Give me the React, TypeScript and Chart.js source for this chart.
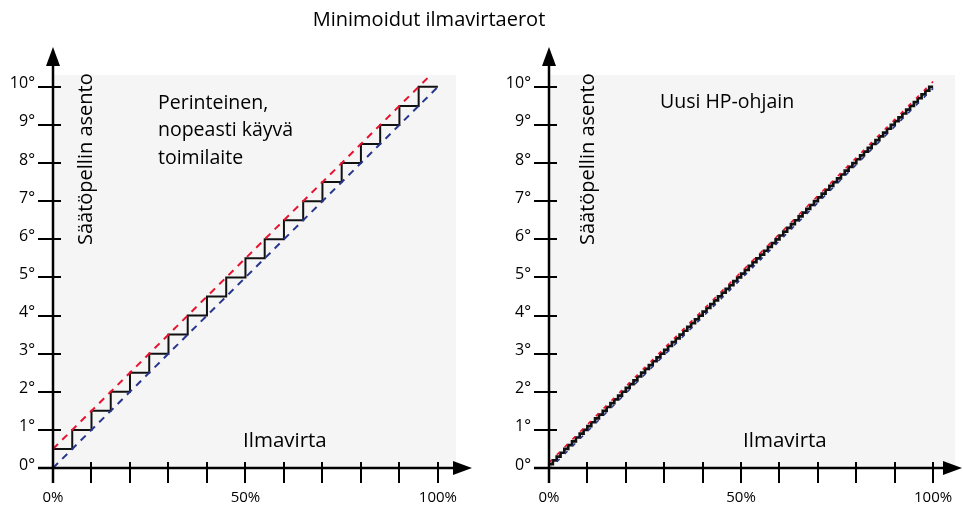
import React, { useEffect, useRef } from "react";
import { Chart, registerables } from "chart.js";

Chart.register(...registerables);

const FONT = '"Open Sans", "DejaVu Sans", sans-serif';

const titleText = "Minimoidut ilmavirtaerot";
const yAxisTitle = "Säätöpellin asento";
const xAxisTitle = "Ilmavirta";
const leftLabelLines = ["Perinteinen,", "nopeasti käyvä", "toimilaite"];
const rightLabelLines = ["Uusi HP-ohjain"];

const yTickValues = [0, 1, 2, 3, 4, 5, 6, 7, 8, 9, 10];
const yTickLabels = ["0°", "1°", "2°", "3°", "4°", "5°", "6°", "7°", "8°", "9°", "10°"];
const xTickValues = [0, 10, 20, 30, 40, 50, 60, 70, 80, 90, 100];
const xLabelValues = [0, 50, 100];
const xLabelTexts = ["0%", "50%", "100%"];

// Left panel: traditional actuator, 0.5° steps every 5 %
const leftStepX = [0, 5, 10, 15, 20, 25, 30, 35, 40, 45, 50, 55, 60, 65, 70, 75, 80, 85, 90, 95, 100];
const leftStepY = [0.5, 1, 1.5, 2, 2.5, 3, 3.5, 4, 4.5, 5, 5.5, 6, 6.5, 7, 7.5, 8, 8.5, 9, 9.5, 10, 10];
const leftRedX = [0, 98];
const leftRedY = [0.5, 10.3];
const leftBlueX = [0, 100];
const leftBlueY = [0, 10];

// Right panel: new HP controller, 0.1° steps every 1 %
const rightStepX = [
  0, 1, 2, 3, 4, 5, 6, 7, 8, 9, 10, 11, 12, 13, 14, 15, 16, 17, 18, 19,
  20, 21, 22, 23, 24, 25, 26, 27, 28, 29, 30, 31, 32, 33, 34, 35, 36, 37, 38, 39,
  40, 41, 42, 43, 44, 45, 46, 47, 48, 49, 50, 51, 52, 53, 54, 55, 56, 57, 58, 59,
  60, 61, 62, 63, 64, 65, 66, 67, 68, 69, 70, 71, 72, 73, 74, 75, 76, 77, 78, 79,
  80, 81, 82, 83, 84, 85, 86, 87, 88, 89, 90, 91, 92, 93, 94, 95, 96, 97, 98, 99, 100,
];
const rightStepY = [
  0.1, 0.2, 0.3, 0.4, 0.5, 0.6, 0.7, 0.8, 0.9, 1.0, 1.1, 1.2, 1.3, 1.4, 1.5, 1.6, 1.7, 1.8, 1.9, 2.0,
  2.1, 2.2, 2.3, 2.4, 2.5, 2.6, 2.7, 2.8, 2.9, 3.0, 3.1, 3.2, 3.3, 3.4, 3.5, 3.6, 3.7, 3.8, 3.9, 4.0,
  4.1, 4.2, 4.3, 4.4, 4.5, 4.6, 4.7, 4.8, 4.9, 5.0, 5.1, 5.2, 5.3, 5.4, 5.5, 5.6, 5.7, 5.8, 5.9, 6.0,
  6.1, 6.2, 6.3, 6.4, 6.5, 6.6, 6.7, 6.8, 6.9, 7.0, 7.1, 7.2, 7.3, 7.4, 7.5, 7.6, 7.7, 7.8, 7.9, 8.0,
  8.1, 8.2, 8.3, 8.4, 8.5, 8.6, 8.7, 8.8, 8.9, 9.0, 9.1, 9.2, 9.3, 9.4, 9.5, 9.6, 9.7, 9.8, 9.9, 10.0, 10.0,
];
const rightRedX = [0, 100];
const rightRedY = [0.14, 10.14];
const rightBlueX = [0, 100];
const rightBlueY = [-0.04, 9.96];

const RED = "#e8122f";
const BLUE = "#26358c";
const GREY = "#f5f5f5";

type PanelCfg = {
  padding: { left: number; right: number; top: number; bottom: number };
  xMax: number;
  yMax: number;
  stepX: number[];
  stepY: number[];
  stepWidth: number;
  redX: number[];
  redY: number[];
  blueX: number[];
  blueY: number[];
  dash: number[];
  dashWidth: number;
  labelLines: string[];
  labelPos: { x: number; y: number };
  vTitleX: number;
  xTitlePos: { x: number; y: number };
  arrowTipX: number;
  drawTitle: boolean;
};

const zip = (xs: number[], ys: number[]) => xs.map((x, i) => ({ x, y: ys[i] }));

const panels: PanelCfg[] = [
  {
    padding: { left: 53, right: 963 - 456, top: 75, bottom: 510 - 468 },
    xMax: 104.7,
    yMax: 10.31,
    stepX: leftStepX,
    stepY: leftStepY,
    stepWidth: 2,
    redX: leftRedX,
    redY: leftRedY,
    blueX: leftBlueX,
    blueY: leftBlueY,
    dash: [7, 6],
    dashWidth: 2,
    labelLines: leftLabelLines,
    labelPos: { x: 158, y: 103 },
    vTitleX: 86,
    xTitlePos: { x: 243, y: 441 },
    arrowTipX: 472,
    drawTitle: true,
  },
  {
    padding: { left: 549, right: 963 - 955, top: 75, bottom: 510 - 468 },
    xMax: 105.7,
    yMax: 10.31,
    stepX: rightStepX,
    stepY: rightStepY,
    stepWidth: 2.7,
    redX: rightRedX,
    redY: rightRedY,
    blueX: rightBlueX,
    blueY: rightBlueY,
    dash: [4, 7],
    dashWidth: 1.6,
    labelLines: rightLabelLines,
    labelPos: { x: 660, y: 102 },
    vTitleX: 588,
    xTitlePos: { x: 743, y: 441 },
    arrowTipX: 962,
    drawTitle: false,
  },
];

function makeDecorPlugin(cfg: PanelCfg) {
  return {
    id: "decor",
    beforeDatasetsDraw(chart: any) {
      const { ctx, chartArea } = chart;
      ctx.save();
      ctx.fillStyle = GREY;
      ctx.fillRect(chartArea.left, chartArea.top, chartArea.right - chartArea.left, chartArea.bottom - chartArea.top);
      ctx.restore();
    },
    afterDatasetsDraw(chart: any) {
      const { ctx } = chart;
      const xs = chart.scales.x;
      const ys = chart.scales.y;
      const ax = xs.getPixelForValue(0);
      const ay = ys.getPixelForValue(0);
      ctx.save();
      ctx.strokeStyle = "#000";
      ctx.fillStyle = "#000";
      ctx.lineCap = "butt";

      // axes
      ctx.lineWidth = 2.5;
      ctx.beginPath();
      ctx.moveTo(ax, ay + 15);
      ctx.lineTo(ax, 60);
      ctx.moveTo(ax - 15, ay);
      ctx.lineTo(cfg.arrowTipX - 10, ay);
      ctx.stroke();

      // arrows
      ctx.beginPath();
      ctx.moveTo(ax, 47);
      ctx.lineTo(ax - 7, 66);
      ctx.lineTo(ax + 7, 66);
      ctx.closePath();
      ctx.fill();
      ctx.beginPath();
      ctx.moveTo(cfg.arrowTipX, ay);
      ctx.lineTo(cfg.arrowTipX - 19, ay - 7);
      ctx.lineTo(cfg.arrowTipX - 19, ay + 7);
      ctx.closePath();
      ctx.fill();

      // ticks
      ctx.lineWidth = 2;
      ctx.beginPath();
      yTickValues.forEach((v) => {
        if (v === 0) return;
        const py = Math.round(ys.getPixelForValue(v));
        ctx.moveTo(ax - 15, py);
        ctx.lineTo(ax + 8, py);
      });
      xTickValues.forEach((v) => {
        if (v === 0) return;
        const px = Math.round(xs.getPixelForValue(v));
        ctx.moveTo(px, ay - 6);
        ctx.lineTo(px, ay + 15);
      });
      ctx.stroke();

      // tick labels
      ctx.font = `16px ${FONT}`;
      ctx.textAlign = "right";
      ctx.textBaseline = "middle";
      yTickValues.forEach((v, i) => {
        ctx.fillText(yTickLabels[i], ax - 18, ys.getPixelForValue(v) - 3);
      });
      ctx.font = `15px ${FONT}`;
      ctx.textAlign = "center";
      xLabelValues.forEach((v, i) => {
        ctx.fillText(xLabelTexts[i], xs.getPixelForValue(v), 498);
      });

      // texts
      ctx.font = `19.5px ${FONT}`;
      ctx.textAlign = "left";
      ctx.textBaseline = "middle";
      cfg.labelLines.forEach((line, i) => {
        ctx.fillText(line, cfg.labelPos.x, cfg.labelPos.y + i * 27.5);
      });
      ctx.font = `20.5px ${FONT}`;
      ctx.fillText(xAxisTitle, cfg.xTitlePos.x, cfg.xTitlePos.y);

      ctx.save();
      ctx.font = `20px ${FONT}`;
      ctx.translate(cfg.vTitleX, 245);
      ctx.rotate(-Math.PI / 2);
      ctx.fillText(yAxisTitle, 0, 0);
      ctx.restore();

      if (cfg.drawTitle) {
        ctx.font = `20px ${FONT}`;
        ctx.textAlign = "center";
        ctx.fillText(titleText, 429, 20);
      }
      ctx.restore();
    },
  };
}

function Panel({ cfg }: { cfg: PanelCfg }) {
  const ref = useRef<HTMLCanvasElement | null>(null);
  useEffect(() => {
    if (!ref.current) return;
    const chart = new Chart(ref.current, {
      type: "line",
      data: {
        datasets: [
          {
            label: "blue",
            data: zip(cfg.blueX, cfg.blueY),
            borderColor: BLUE,
            borderWidth: cfg.dashWidth,
            borderDash: cfg.dash,
            pointRadius: 0,
            fill: false,
          },
          {
            label: "red",
            data: zip(cfg.redX, cfg.redY),
            borderColor: RED,
            borderWidth: cfg.dashWidth,
            borderDash: cfg.dash,
            pointRadius: 0,
            fill: false,
          },
          {
            label: "step",
            data: zip(cfg.stepX, cfg.stepY),
            borderColor: "#111",
            borderWidth: cfg.stepWidth,
            borderJoinStyle: "miter",
            stepped: true,
            pointRadius: 0,
            fill: false,
          },
        ],
      },
      options: {
        animation: false,
        responsive: false,
        events: [],
        layout: { padding: cfg.padding },
        plugins: { legend: { display: false }, tooltip: { enabled: false }, title: { display: false } },
        scales: {
          x: { type: "linear", min: 0, max: cfg.xMax, display: false },
          y: { type: "linear", min: 0, max: cfg.yMax, display: false },
        },
      },
      plugins: [makeDecorPlugin(cfg)],
    } as any);
    return () => chart.destroy();
  }, [cfg]);
  return (
    <canvas
      ref={ref}
      width={963}
      height={510}
      style={{ position: "absolute", left: 0, top: 0, width: 963, height: 510 }}
    />
  );
}

export default function App() {
  return (
    <div style={{ position: "fixed", left: 0, top: 0, width: 963, height: 510, background: "#fff" }}>
      {panels.map((p, i) => (
        <Panel key={i} cfg={p} />
      ))}
    </div>
  );
}
